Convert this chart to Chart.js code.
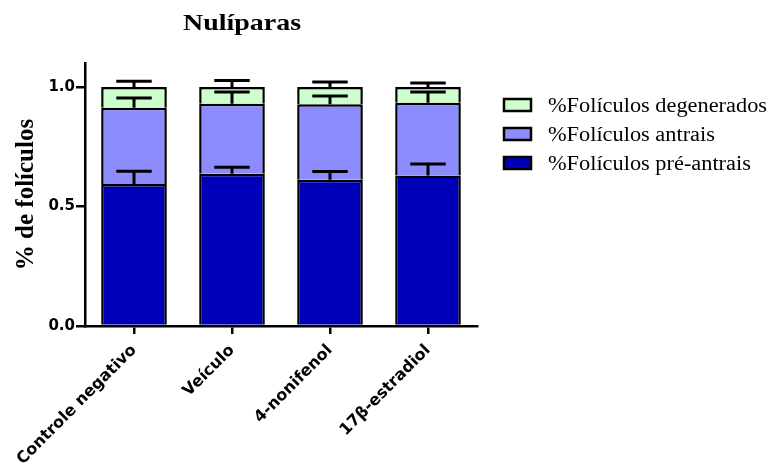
<!DOCTYPE html>
<html>
<head>
<meta charset="utf-8">
<script src="https://cdn.jsdelivr.net/npm/chart.js@4"></script>
<style>
  html, body { margin: 0; padding: 0; background: #fff; }
  #wrap { width: 776px; height: 470px; }
</style>
</head>
<body>
<div id="wrap"><canvas id="c" width="776" height="470"></canvas></div>
<script>
// Groups and stacked proportions of follicles per group
const categories = ['Controle negativo', 'Veículo', '4-nonifenol', '17β-estradiol'];
const preAntrais = [0.594, 0.637, 0.612, 0.629];
const antrais = [0.319, 0.293, 0.315, 0.305];
const degenerados = [0.087, 0.070, 0.073, 0.066];

// Upper error (SEM) of each stacked segment
const errPreAntrais = [0.053, 0.027, 0.034, 0.049];
const errAntrais = [0.041, 0.049, 0.035, 0.045];
const errDegenerados = [0.024, 0.027, 0.021, 0.016];

const yTicks = [0.0, 0.5, 1.0];
const seriesLabels = ['%Folículos pré-antrais', '%Folículos antrais', '%Folículos degenerados'];
const seriesColors = ['#0000b8', '#8c8cff', '#ccffcc'];
const chartTitle = 'Nulíparas';
const yTitle = '% de folículos';

// Draws the upward error whisker above every stacked segment
const errorBars = {
  id: 'errorBars',
  afterDatasetsDraw(chart) {
    const ctx = chart.ctx;
    const yScale = chart.scales.y;
    ctx.save();
    ctx.strokeStyle = '#000';
    ctx.lineWidth = 3;
    chart.data.datasets.forEach((ds, i) => {
      const meta = chart.getDatasetMeta(i);
      meta.data.forEach((bar, j) => {
        let top = 0;
        for (let k = 0; k <= i; k++) top += chart.data.datasets[k].data[j];
        const y0 = yScale.getPixelForValue(top);
        const y1 = yScale.getPixelForValue(top + ds.errors[j]);
        const half = bar.width * 0.27;
        ctx.beginPath();
        ctx.moveTo(bar.x, y0);
        ctx.lineTo(bar.x, y1);
        ctx.moveTo(bar.x - half, y1);
        ctx.lineTo(bar.x + half, y1);
        ctx.stroke();
      });
    });
    ctx.restore();
  }
};

// Title and legend drawn as canvas text, widened horizontally
const headerAndLegend = {
  id: 'headerAndLegend',
  afterDraw(chart) {
    const ctx = chart.ctx;
    ctx.save();
    ctx.fillStyle = '#000';

    // title
    ctx.font = 'bold 23px "Liberation Serif"';
    const tw = ctx.measureText(chartTitle).width;
    const tsx = 118 / tw;
    ctx.save();
    ctx.translate(242, 30);
    ctx.scale(tsx, 1);
    ctx.textAlign = 'center';
    ctx.textBaseline = 'alphabetic';
    ctx.fillText(chartTitle, 0, 0);
    ctx.restore();

    // legend, top entry is the top segment of the stack
    ctx.font = '20px "Liberation Serif"';
    const lsx = 219 / ctx.measureText(seriesLabels[2]).width;
    const order = chart.data.datasets.map((d, i) => i).reverse();
    order.forEach((idx, row) => {
      const ds = chart.data.datasets[idx];
      const cy = 105 + row * 29;
      ctx.fillStyle = ds.backgroundColor;
      ctx.fillRect(504, cy - 6, 27, 12);
      ctx.strokeStyle = '#000';
      ctx.lineWidth = 2.5;
      ctx.strokeRect(504, cy - 6, 27, 12);
      ctx.fillStyle = '#000';
      ctx.save();
      ctx.translate(548, cy + 7);
      ctx.scale(lsx, 1);
      ctx.textAlign = 'left';
      ctx.textBaseline = 'alphabetic';
      ctx.fillText(ds.label, 0, 0);
      ctx.restore();
    });
    ctx.restore();
  }
};

const tickFont = { family: 'DejaVu Sans', weight: 'bold', size: 15 };
const catFont = { family: 'DejaVu Sans', weight: 'bold', size: 16 };

new Chart(document.getElementById('c'), {
  type: 'bar',
  data: {
    labels: categories,
    datasets: [
      { label: seriesLabels[0], data: preAntrais, errors: errPreAntrais, backgroundColor: seriesColors[0] },
      { label: seriesLabels[1], data: antrais, errors: errAntrais, backgroundColor: seriesColors[1] },
      { label: seriesLabels[2], data: degenerados, errors: errDegenerados, backgroundColor: seriesColors[2] }
    ].map(d => Object.assign(d, {
      borderColor: '#000',
      borderWidth: 2.5,
      categoryPercentage: 1.0,
      barPercentage: 0.67
    }))
  },
  options: {
    responsive: false,
    animation: false,
    layout: { padding: { top: 63, right: 299, bottom: 0, left: 12 } },
    plugins: {
      legend: { display: false },
      title: { display: false },
      tooltip: { enabled: false }
    },
    scales: {
      x: {
        stacked: true,
        offset: true,
        grid: { offset: false, drawOnChartArea: false, drawTicks: true, tickLength: 8, color: '#000', lineWidth: 2.5 },
        border: { display: true, color: '#000', width: 2.5 },
        ticks: { autoSkip: false, minRotation: 45, maxRotation: 45, padding: 7, color: '#000', font: catFont },
        afterFit(scale) { scale.height = 144; }
      },
      y: {
        stacked: true,
        min: 0,
        max: 1.1,
        afterBuildTicks(scale) { scale.ticks = yTicks.map(v => ({ value: v })); },
        ticks: { callback: v => Number(v).toFixed(1), padding: 1, color: '#000', font: tickFont },
        grid: { drawOnChartArea: false, drawTicks: true, tickLength: 9, color: '#000', lineWidth: 2.5 },
        border: { display: true, color: '#000', width: 2.5 },
        title: {
          display: true,
          text: yTitle,
          color: '#000',
          padding: 0,
          font: { family: 'Liberation Serif', weight: 'bold', size: 25 }
        },
        afterFit(scale) { scale.width = 73; }
      }
    }
  },
  plugins: [errorBars, headerAndLegend]
});
</script>
</body>
</html>
